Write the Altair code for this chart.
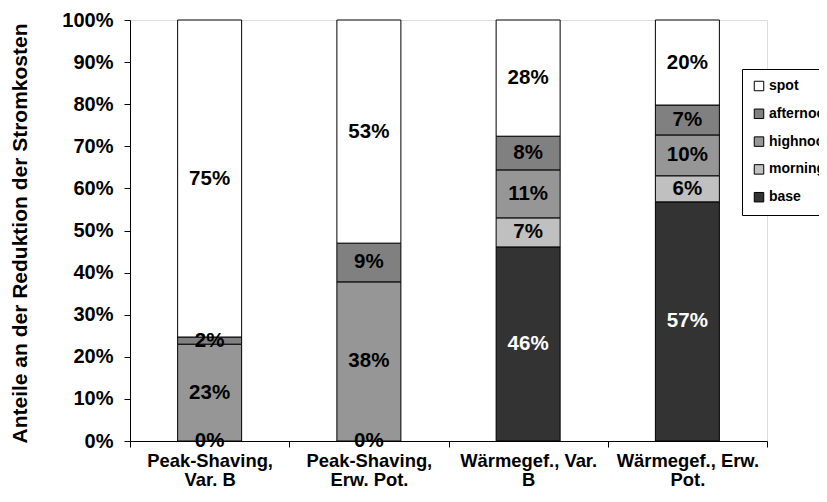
import altair as alt
import pandas as pd

FONT = "Liberation Sans"

categories = ["Peak-Shaving,|Var. B", "Peak-Shaving,|Erw. Pot.",
              "Wärmegef., Var.|B", "Wärmegef., Erw.|Pot."]
stack_order = ["base", "morning", "highnoon", "afternoon", "spot"]
legend_order = ["spot", "afternoon", "highnoon", "morning", "base"]
legend_colors = ["#FFFFFF", "#808080", "#969696", "#C0C0C0", "#333333"]

base = [0.0, 0.0, 46.1, 56.8]
morning = [None, None, 6.9, 6.2]
highnoon = [23.0, 37.8, 11.4, 9.7]
afternoon = [1.7, 9.2, 8.0, 7.1]
spot = [75.3, 53.0, 27.6, 20.2]

series_values = {"base": base, "morning": morning, "highnoon": highnoon,
                 "afternoon": afternoon, "spot": spot}

rows = []
for i, cat in enumerate(categories):
    for k, s in enumerate(stack_order):
        v = series_values[s][i]
        if v is None:
            continue
        rows.append({"cat": cat, "series": s, "value": v, "order": k})
df = pd.DataFrame(rows)

x_enc = alt.X(
    "cat:N", sort=categories, title=None,
    scale=alt.Scale(paddingInner=0, paddingOuter=0),
    axis=alt.Axis(
        labelExpr="split(datum.label, '|')", labelAngle=0,
        labelFont=FONT, labelFontWeight="bold", labelFontSize=18.4,
        labelColor="black", labelLineHeight=19, labelPadding=4,
        domainColor="black", tickColor="black", tickSize=6,
        tickBand="extent", tickExtra=True, grid=False,
    ),
)

basechart = alt.Chart(df).transform_stack(
    stack="value", groupby=["cat"],
    sort=[alt.SortField("order", order="ascending")],
    as_=["v0", "v1"],
)

bars = basechart.mark_bar(size=64, stroke="black", strokeWidth=1).encode(
    x=x_enc,
    y=alt.Y(
        "v0:Q", title="Anteile an der Reduktion der Stromkosten",
        scale=alt.Scale(domain=[0, 100], nice=False),
        axis=alt.Axis(
            values=list(range(0, 101, 10)), labelExpr="datum.value + '%'",
            labelFont=FONT, labelFontWeight="bold", labelFontSize=20,
            labelColor="black", labelPadding=11,
            domainColor="black", tickColor="black", tickSize=6, grid=False,
            titleFont=FONT, titleFontWeight="bold", titleFontSize=21,
            titleColor="black", titleX=-110, titleY=213, titleAngle=270,
            titleAlign="center", titleBaseline="middle",
        ),
    ),
    y2="v1:Q",
    color=alt.Color(
        "series:N",
        scale=alt.Scale(domain=legend_order, range=legend_colors),
        legend=alt.Legend(
            title=None, orient="none", legendX=612, legendY=49,
            fillColor="white", strokeColor="black", padding=10,
            symbolType="square", symbolSize=90, symbolStrokeColor="black",
            symbolStrokeWidth=1, symbolOpacity=1,
            labelFont=FONT, labelFontWeight="bold", labelFontSize=14,
            labelColor="black", labelOffset=3, rowPadding=13.8,
        ),
    ),
)

texts = basechart.transform_calculate(
    mid="(datum.v0 + datum.v1) / 2",
    label="format(datum.value / 100, '.0%')",
).mark_text(font=FONT, fontWeight="bold", fontSize=20.5, baseline="middle").encode(
    x=alt.X("cat:N", sort=categories),
    y=alt.Y("mid:Q"),
    text="label:N",
    color=alt.condition("datum.series == 'base' && datum.value > 0",
                        alt.value("white"), alt.value("black")),
)

chart = alt.layer(bars, texts).properties(
    width=637, height=421,
    autosize=alt.AutoSizeParams(type="none"),
    padding={"left": 122, "top": 12, "right": 52, "bottom": 52},
).configure_view(stroke="#404040", strokeWidth=1).configure(background="white")

chart.save("out.html", embed_options={"renderer": "svg", "actions": False})
